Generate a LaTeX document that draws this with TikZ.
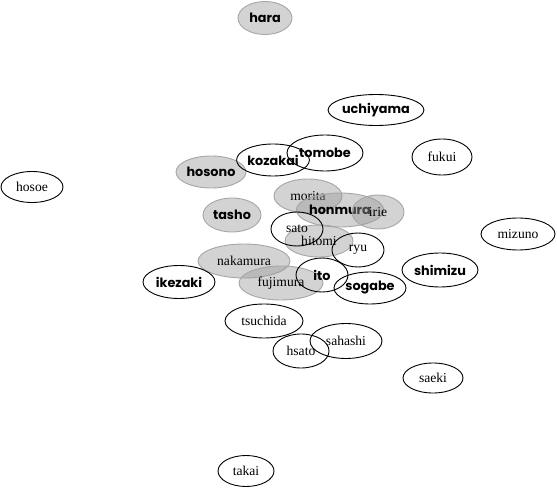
\documentclass[tikz,border=0pt]{standalone}
\usepackage{fontspec}
\setmainfont{Liberation Serif}
\newfontfamily\gothic{Poppins}
\usetikzlibrary{shapes.geometric}
\tikzset{
	member/.style={ellipse,inner sep=0pt,line width=0.9pt},
	plain/.style={member,draw=black,font=\fontsize{13.6}{13.6}\selectfont},
	shaded/.style={member,draw=black!35,fill=black!40,fill opacity=0.43,text opacity=1,font=\fontsize{13.6}{13.6}\selectfont},
	bold/.style={font=\gothic\bfseries\fontsize{12.8}{12.8}\selectfont}
}
\begin{document}
\begin{tikzpicture}[x=1pt,y=-1pt]
	\useasboundingbox (0,0) rectangle (557,489);
	% grau
	\node[shaded,bold,minimum width=54,minimum height=33] (hara) at (265,18) {hara};
	\node[shaded,bold,minimum width=70,minimum height=32] (hosono) at (211,172) {hosono};
	\node[shaded,bold,minimum width=58,minimum height=34] (tasho) at (232,215) {tasho};
	\node[shaded,minimum width=68,minimum height=34] (morita) at (308,196) {morita};
	\node[shaded,bold,minimum width=86,minimum height=34] (honmura) at (340,210) {honmura};
	\node[shaded,minimum width=52,minimum height=34] (irie) at (378,212) {irie};
	\node[shaded,minimum width=68,minimum height=32] (hitomi) at (319,241) {hitomi};
	\node[shaded,minimum width=92,minimum height=34] (nakamura) at (244,261) {nakamura};
	\node[shaded,minimum width=84,minimum height=34] (fujimura) at (281,283) {fujimura};
	% weiss
	\node[plain,bold,minimum width=90,minimum height=31] (uchiyama) at (376,110) {uchiyama};
	\node[plain,bold,minimum width=76,minimum height=36] (tomobe) at (325,153) {tomobe};
	\node[plain,bold,minimum width=72,minimum height=32] (kozakai) at (273,160) {kozakai};
	\node[plain,minimum width=60,minimum height=36] (fukui) at (442,157) {fukui};
	\node[plain,minimum width=62,minimum height=31] (hosoe) at (32,187) {hosoe};
	\node[plain,minimum width=52,minimum height=34] (sato) at (297,229) {sato};
	\node[plain,minimum width=52,minimum height=34] (ryu) at (358,250) {ryu};
	\node[plain,bold,minimum width=52,minimum height=34] (ito) at (322,275) {ito};
	\node[plain,bold,minimum width=72,minimum height=32] (sogabe) at (370,288) {sogabe};
	\node[plain,bold,minimum width=76,minimum height=34] (shimizu) at (440,270) {shimizu};
	\node[plain,minimum width=74,minimum height=32] (mizuno) at (518,234) {mizuno};
	\node[plain,bold,minimum width=72,minimum height=33] (ikezaki) at (179,282) {ikezaki};
	\node[plain,minimum width=78,minimum height=34] (tsuchida) at (264,321) {tsuchida};
	\node[plain,minimum width=72,minimum height=35] (sahashi) at (346,341) {sahashi};
	\node[plain,minimum width=56,minimum height=34] (hsato) at (301,351) {hsato};
	\node[plain,minimum width=60,minimum height=30] (saeki) at (433,378) {saeki};
	\node[plain,minimum width=56,minimum height=31] (takai) at (246,471) {takai};
\end{tikzpicture}
\end{document}
